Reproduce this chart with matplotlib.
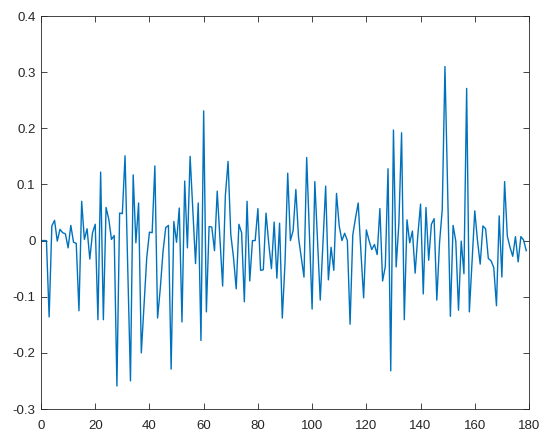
import matplotlib
matplotlib.use("Agg")
import matplotlib.pyplot as plt
import numpy as np

values = [
    0.0, 0.0, 0.0, -0.136, 0.026, 0.036, -0.001, 0.020, 0.014, 0.012,
    -0.013, 0.027, -0.003, -0.005, -0.125, 0.070, 0.002, 0.021, -0.033, 0.014,
    0.029, -0.141, 0.122, -0.141, 0.059, 0.038, 0.002, 0.009, -0.259, 0.049,
    0.048, 0.151, -0.050, -0.250, 0.117, -0.004, 0.067, -0.200, -0.115, -0.031,
    0.015, 0.014, 0.133, -0.138, -0.085, -0.020, 0.023, 0.027, -0.229, 0.034,
    -0.003, 0.058, -0.145, 0.106, -0.013, 0.150, 0.055, -0.041, 0.067, -0.178,
    0.231, -0.127, 0.025, 0.024, -0.018, 0.088, 0.005, -0.081, 0.080, 0.141,
    0.011, -0.030, -0.086, 0.029, 0.014, -0.109, 0.070, -0.072, 0.000, 0.000,
    0.057, -0.053, -0.052, 0.049, -0.005, -0.050, 0.033, -0.067, 0.031, -0.138,
    -0.040, 0.120, 0.000, 0.018, 0.091, 0.005, -0.030, -0.065, 0.148, 0.013,
    -0.122, 0.105, 0.000, -0.106, -0.005, 0.097, -0.070, -0.012, -0.053, 0.084,
    0.026, 0.000, 0.013, 0.000, -0.149, 0.010, 0.040, 0.067, -0.020, -0.102,
    0.019, 0.000, -0.016, -0.007, -0.025, 0.057, -0.072, -0.046, 0.128, -0.232,
    0.197, -0.047, 0.030, 0.192, -0.141, 0.037, -0.004, 0.017, -0.058, 0.010,
    0.065, -0.095, 0.059, -0.035, 0.029, 0.039, -0.106, -0.004, 0.055, 0.310,
    0.090, -0.135, 0.027, -0.001, -0.124, -0.001, -0.059, 0.271, -0.127, -0.037,
    0.053, 0.000, -0.042, 0.026, 0.021, -0.032, -0.036, -0.048, -0.116, 0.044,
    -0.065, 0.105, 0.008, -0.012, -0.028, 0.007, -0.038, 0.007, 0.001, -0.018,
]
x = np.arange(len(values))

xticks = [0, 20, 40, 60, 80, 100, 120, 140, 160, 180]
yticks = [-0.3, -0.2, -0.1, 0, 0.1, 0.2, 0.3, 0.4]
ytick_labels = ["-0.3", "-0.2", "-0.1", "0", "0.1", "0.2", "0.3", "0.4"]

plt.rcParams['font.family'] = ['Liberation Sans', 'DejaVu Sans']
fig = plt.figure(figsize=(5.5, 4.45), dpi=100)
ax = fig.add_axes([41/550, (445-409)/445, (529-41)/550, (409-16)/445])
ax.plot(x, values, color='#0072BD', linewidth=1.0)
ax.set_xlim(0, 180)
ax.set_ylim(-0.3, 0.4)
ax.set_xticks(xticks)
ax.set_xticklabels([str(t) for t in xticks])
ax.set_yticks(yticks)
ax.set_yticklabels(ytick_labels)
ax.tick_params(direction='in', top=True, right=True, length=4, width=0.6,
               labelsize=9.5, colors='#262626')
ax.tick_params(axis='x', pad=8)
ax.tick_params(axis='y', pad=4)
for s in ax.spines.values():
    s.set_linewidth(0.6)
    s.set_color('#262626')
fig.savefig('out.png', dpi=100)
